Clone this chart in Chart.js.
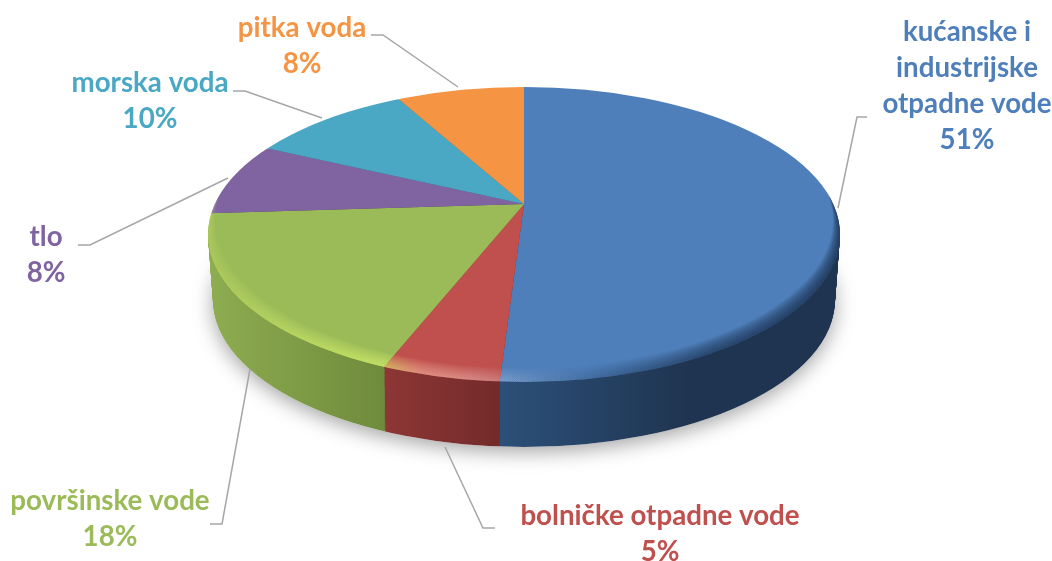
<!DOCTYPE html>
<html>
<head>
<meta charset="utf-8">
<style>
    html, body { margin: 0; background: #fff; }
    #wrap { width: 1052px; height: 561px; }
</style>
</head>
<body>
<div id="wrap"><canvas id="myChart" width="1052" height="561"></canvas></div>

<script src="https://cdn.jsdelivr.net/npm/chart.js"></script>
<script>
    const categories = [
        ['kućanske i', 'industrijske', 'otpadne vode'],
        ['bolničke otpadne vode'],
        ['površinske vode'],
        ['tlo'],
        ['morska voda'],
        ['pitka voda']
    ];
    const shares = [51, 5, 18, 8, 10, 8];
    const colors = ['#4e7fba', '#bf504d', '#9bbb59', '#8064a2', '#4aa8c4', '#f59443'];
    // side of the disc: [x, colour] from left to right
    const wallColors = [
        [[500, '#2c5079'], [690, '#1f3450']],
        [[388, '#8c3635'], [500, '#722b2a']],
        [[210, '#8eac50'], [388, '#6e8a3c']],
        [[210, '#4c3c61'], [400, '#4c3c61']],
        [[210, '#2c6475'], [400, '#2c6475']],
        [[400, '#935827'], [524, '#935827']]
    ];
    // label centre x, first line baseline, leader polyline
    const labelSpots = [
        { x: 967, y: 41, line: [[867, 117], [857, 117], [838, 208]] },
        { x: 660, y: 525, line: [[495, 528], [483, 528], [445, 447]] },
        { x: 110, y: 510, line: [[210, 524], [222, 524], [250, 369]] },
        { x: 46, y: 246, line: [[78, 245], [90, 245], [228, 178]] },
        { x: 150, y: 92, line: [[233, 91], [245, 91], [322, 118]] },
        { x: 302, y: 37, line: [[371, 35], [383, 35], [458, 87]] }
    ];

    // disc geometry on the page, the apex sits above the ellipse centre (perspective)
    const apex = { x: 524, y: 204 };
    const top3d = { x: 524, y: 234.5, rx: 316, ry: 147.5 };
    const bottom3d = { x: 524, y: 300, rx: 311, ry: 147 };
    const sx = 1.45, sy = sx * 0.46;

    function ellipsePath(ctx, e, dy) {
        ctx.beginPath();
        ctx.ellipse(e.x, e.y + (dy || 0), e.rx, e.ry, 0, 0, Math.PI * 2);
    }

    function toDisc(ctx, arc, dy) {
        ctx.translate(apex.x, apex.y + dy);
        ctx.scale(sx, sy);
        ctx.translate(-arc.x, -arc.y);
    }

    const disc3d = {
        id: 'disc3d',
        beforeDatasetsDraw(chart) {
            const ctx = chart.ctx;
            const arcs = chart.getDatasetMeta(0).data;

            // soft shadow under the disc
            ctx.save();
            ctx.shadowColor = 'rgba(0,0,0,0.36)';
            ctx.shadowBlur = 20;
            ctx.shadowOffsetY = 5;
            ctx.fillStyle = '#fff';
            ellipsePath(ctx, bottom3d);
            ctx.fill();
            ctx.restore();

            // side wall: same arcs, stacked from the bottom up
            const steps = 66;
            for (let i = steps; i >= 1; i--) {
                const t = i / steps;
                const e = {
                    x: top3d.x,
                    y: top3d.y + (bottom3d.y - top3d.y) * t,
                    rx: top3d.rx + (bottom3d.rx - top3d.rx) * t,
                    ry: top3d.ry + (bottom3d.ry - top3d.ry) * t
                };
                ctx.save();
                ellipsePath(ctx, e);
                ctx.clip();
                toDisc(ctx, arcs[0], e.y - top3d.y);
                arcs.forEach((arc, k) => {
                    const stops = wallColors[k];
                    const g = ctx.createLinearGradient(
                        arc.x + (stops[0][0] - apex.x) / sx, 0,
                        arc.x + (stops[1][0] - apex.x) / sx, 0);
                    g.addColorStop(0, stops[0][1]);
                    g.addColorStop(1, stops[1][1]);
                    const keep = arc.options;
                    arc.options = Object.assign({}, keep, { backgroundColor: g });
                    arc.draw(ctx);
                    arc.options = keep;
                });
                ctx.restore();
            }

            // top face is drawn by the chart itself inside this transform
            ctx.save();
            ellipsePath(ctx, top3d);
            ctx.clip();
            toDisc(ctx, arcs[0], 0);
        },
        afterDatasetsDraw(chart) {
            const ctx = chart.ctx;
            ctx.restore();

            // bevel on the rim of the top face
            ctx.save();
            ellipsePath(ctx, top3d);
            ctx.clip();
            const g = ctx.createLinearGradient(208, 0, 840, 0);
            g.addColorStop(0, 'rgba(225,255,110,0.02)');
            g.addColorStop(0.12, 'rgba(225,255,110,0.03)');
            g.addColorStop(0.28, 'rgba(225,255,110,0.055)');
            g.addColorStop(0.34, 'rgba(255,190,170,0.05)');
            g.addColorStop(0.46, 'rgba(255,255,255,0.02)');
            g.addColorStop(0.6, 'rgba(20,40,70,0.015)');
            g.addColorStop(0.8, 'rgba(20,40,70,0.07)');
            g.addColorStop(1, 'rgba(20,40,70,0.09)');
            ctx.fillStyle = g;
            for (let d = 14; d >= 1; d--) {
                ctx.beginPath();
                ctx.ellipse(top3d.x, top3d.y, top3d.rx + 2, top3d.ry + 2, 0, 0, Math.PI * 2);
                ctx.ellipse(top3d.x, top3d.y - d, top3d.rx - d * 0.5, top3d.ry, 0, 0, Math.PI * 2);
                ctx.fill('evenodd');
            }
            ctx.restore();

            // leaders and labels
            ctx.save();
            ctx.strokeStyle = '#a6a6a6';
            ctx.lineWidth = 1.5;
            labelSpots.forEach(spot => {
                ctx.beginPath();
                spot.line.forEach((p, i) => i ? ctx.lineTo(p[0], p[1]) : ctx.moveTo(p[0], p[1]));
                ctx.stroke();
            });
            ctx.font = 'bold 27.7px Lato';
            ctx.textAlign = 'center';
            ctx.textBaseline = 'alphabetic';
            labelSpots.forEach((spot, k) => {
                ctx.fillStyle = colors[k];
                const lines = categories[k].concat(shares[k] + '%');
                lines.forEach((txt, i) => ctx.fillText(txt, spot.x, spot.y + i * 36));
            });
            ctx.restore();
        }
    };

    new Chart(document.getElementById('myChart'), {
        type: 'pie',
        data: {
            labels: categories,
            datasets: [{
                data: shares,
                backgroundColor: colors,
                borderWidth: 0,
                hoverOffset: 0,
                clip: false
            }]
        },
        options: {
            responsive: false,
            animation: false,
            layout: { padding: 0 },
            plugins: {
                legend: { display: false },
                tooltip: { enabled: false }
            }
        },
        plugins: [disc3d]
    });
</script>
</body>
</html>
